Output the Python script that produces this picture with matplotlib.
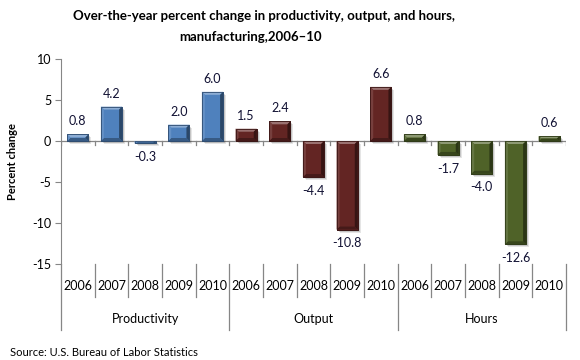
import matplotlib
matplotlib.use("Agg")
import matplotlib.pyplot as plt
import matplotlib.transforms as mtransforms
from matplotlib.patches import Polygon, Rectangle
import numpy as np

plt.rcParams["font.family"] = ["Lato", "DejaVu Sans"]

groups = ["Productivity", "Output", "Hours"]
years = ["2006", "2007", "2008", "2009", "2010"]
productivity = [0.8, 4.2, -0.3, 2.0, 6.0]
output = [1.5, 2.4, -4.4, -10.8, 6.6]
hours = [0.8, -1.7, -4.0, -12.6, 0.6]
group_colors = ["#4F81BD", "#632523", "#4F6228"]

title_line1 = "Over-the-year percent change in productivity, output, and hours,"
title_line2 = "manufacturing,2006\u201310"
source_text = "Source: U.S. Bureau of Labor Statistics"

series = [productivity, output, hours]


def shade(hex_color, factor):
    rgb = np.array(matplotlib.colors.to_rgb(hex_color))
    if factor >= 1:
        rgb = rgb + (1 - rgb) * (factor - 1)
    else:
        rgb = rgb * factor
    return tuple(np.clip(rgb, 0, 1))


fig = plt.figure(figsize=(5.8, 3.6), dpi=100)
ax = fig.add_axes([61 / 580, 1 - 264 / 360, 505 / 580, 205 / 360])

ax.set_xlim(0, 15)
ax.set_ylim(-15, 10)

bar_width = 0.63
units_per_px_y = 25 / 205
units_per_px_x = 15 / 505

n = 0
for g, values in enumerate(series):
    color = group_colors[g]
    for v in values:
        x0 = n + 0.5 - bar_width / 2
        x1 = x0 + bar_width
        y_lo, y_hi = min(0, v), max(0, v)
        # soft drop shadow
        for k, a in [(3, 0.10), (2, 0.14)]:
            ax.add_patch(Rectangle((x0 + k * units_per_px_x, y_lo - k * units_per_px_y),
                                   bar_width, y_hi - y_lo, facecolor="black",
                                   alpha=a, edgecolor="none", zorder=2))
        ax.bar(n + 0.5, v, width=bar_width, color=color,
               edgecolor=shade(color, 0.6), linewidth=0.6, zorder=3)
        # bevel
        bx = min(3 * units_per_px_x, bar_width / 2)
        by = min(3 * units_per_px_y, (y_hi - y_lo) / 2)
        ix0, ix1, iy0, iy1 = x0 + bx, x1 - bx, y_lo + by, y_hi - by
        ax.add_patch(Polygon([(x0, y_hi), (x1, y_hi), (ix1, iy1), (ix0, iy1)],
                             facecolor=shade(color, 1.35), edgecolor="none", zorder=4))
        ax.add_patch(Polygon([(x0, y_lo), (x1, y_lo), (ix1, iy0), (ix0, iy0)],
                             facecolor=shade(color, 0.7), edgecolor="none", zorder=4))
        ax.add_patch(Polygon([(x0, y_lo), (x0, y_hi), (ix0, iy1), (ix0, iy0)],
                             facecolor=shade(color, 1.12), edgecolor="none", zorder=4))
        ax.add_patch(Polygon([(x1, y_lo), (x1, y_hi), (ix1, iy1), (ix1, iy0)],
                             facecolor=shade(color, 0.55), edgecolor="none", zorder=4))
        ax.add_patch(Rectangle((x0, y_lo), bar_width, y_hi - y_lo, facecolor="none",
                               edgecolor=shade(color, 0.6), linewidth=0.6, zorder=5))
        if v >= 0:
            ax.annotate(f"{v:.1f}", (n + 0.5, v), xytext=(0, 5), textcoords="offset points",
                        ha="center", va="bottom", fontsize=9, color="#111133")
        else:
            ax.annotate(f"{v:.1f}", (n + 0.5, v), xytext=(0, -5.5), textcoords="offset points",
                        ha="center", va="top", fontsize=9, color="#111133")
        n += 1

# axes styling
for side in ["top", "right", "bottom"]:
    ax.spines[side].set_visible(False)
ax.spines["left"].set_color("#868686")
ax.axhline(0, color="#868686", linewidth=0.9, zorder=1)
ax.set_yticks([10, 5, 0, -5, -10, -15])
ax.set_yticklabels(["10", "5", "0", "-5", "-10", "-15"])
ax.tick_params(axis="y", length=4, color="#868686", labelsize=9, pad=3)
ax.set_xticks([])

trans = mtransforms.blended_transform_factory(ax.transData, ax.transAxes)
for i in range(16):
    # short tick marks below the zero line
    ax.plot([i, i], [0, -4 * units_per_px_y], color="#868686", linewidth=0.9, zorder=1)
    bottom = -66 / 205 if i % 5 == 0 else -33 / 205
    ax.plot([i, i], [0, bottom], transform=trans, color="#868686",
            linewidth=0.9, clip_on=False)

k = 0
for g, name in enumerate(groups):
    for y in years:
        ax.text(k + 0.5, -22 / 205, y, transform=trans, ha="center", va="center",
                fontsize=9, color="black")
        k += 1
    ax.text(g * 5 + 2.5, -55 / 205, name, transform=trans, ha="center", va="center",
            fontsize=9, color="black")

fig.text(13 / 580, 1 - 162 / 360, "Percent change", rotation=90, ha="center",
         va="center", fontsize=8, fontweight="bold")
fig.text(264 / 580, 1 - 16 / 360, title_line1, ha="center", va="center",
         fontsize=9.5, fontweight="bold")
fig.text(251 / 580, 1 - 37 / 360, title_line2, ha="center", va="center",
         fontsize=9.5, fontweight="bold")
fig.text(10 / 580, 1 - 352 / 360, source_text, ha="left", va="center", fontsize=8)

fig.savefig("out.png", dpi=100)
